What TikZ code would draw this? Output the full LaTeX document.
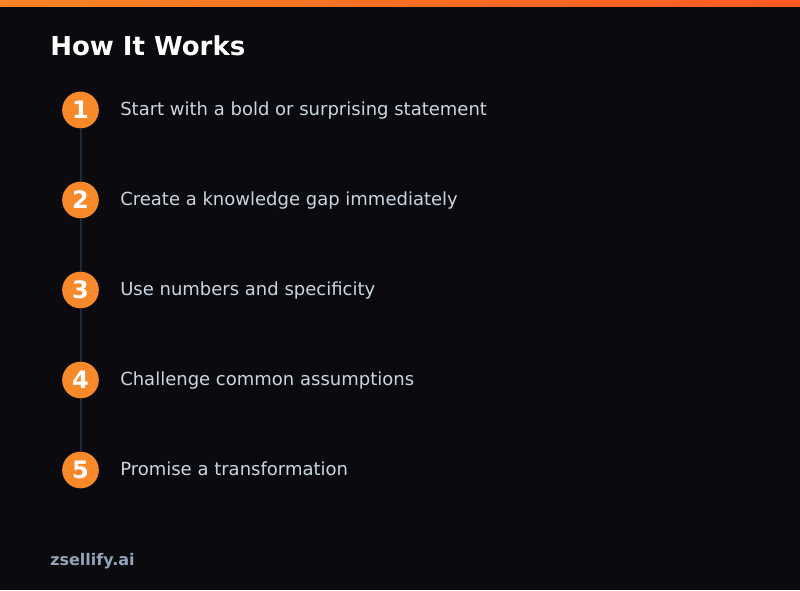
\documentclass[tikz,border=0pt]{standalone}
\usepackage{fontspec}
\setmainfont{DejaVu Sans}
\definecolor{bg}{HTML}{0B0B0F}
\definecolor{orangeA}{HTML}{F7892A}
\definecolor{barL}{HTML}{F58425}
\definecolor{barR}{HTML}{FF5A23}
\definecolor{steptext}{HTML}{CBD5E1}
\definecolor{footer}{HTML}{94A3B8}
\definecolor{linkc}{HTML}{1E293B}
\begin{document}
\begin{tikzpicture}[x=0.75pt,y=-0.75pt,
  num/.style={circle,fill=orangeA,minimum size=27.5pt,inner sep=0pt,text=white,font=\fontsize{18}{18}\selectfont\bfseries},
  stxt/.style={anchor=base west,inner sep=0pt,text=steptext,font=\fontsize{13.5}{13.5}\selectfont},
  link/.style={draw=linkc,line width=1.5pt}]
\fill[bg] (0,0) rectangle (800,590);
\useasboundingbox (0,0) rectangle (800,590);
\shade[left color=barL,right color=barR] (0,0) rectangle (800,6);
\node[anchor=base west,inner sep=0pt,text=white,font=\fontsize{19.5}{19.5}\selectfont\bfseries] (title) at (50,55) {How It Works};
\foreach \i/\t in {1/Start with a bold or surprising statement,2/Create a knowledge gap immediately,3/Use numbers and specificity,4/Challenge common assumptions,5/Promise a transformation}{
  \node[num] (n\i) at (80.5,{110+(\i-1)*90}) {\i};
  \node[stxt] (t\i) at (120,{115.5+(\i-1)*90}) {\t};
}
\foreach \a/\b in {1/2,2/3,3/4,4/5}{\draw[link] (n\a) -- (n\b);}
\node[anchor=base west,inner sep=0pt,text=footer,font=\fontsize{12}{12}\selectfont\bfseries] (foot) at (50,565) {zsellify.ai};
\end{tikzpicture}
\end{document}
